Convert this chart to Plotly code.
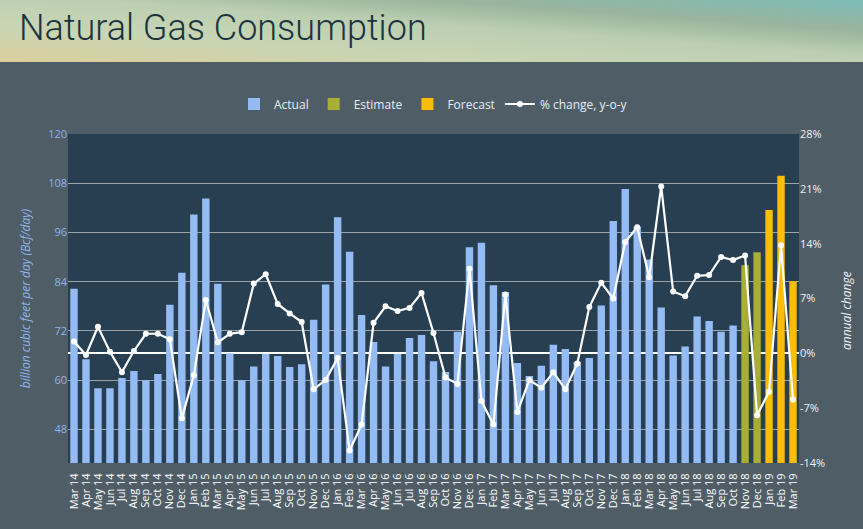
import base64
import plotly.graph_objects as go

months = ["Mar 14","Apr 14","May 14","Jun 14","Jul 14","Aug 14","Sep 14","Oct 14","Nov 14","Dec 14",
          "Jan 15","Feb 15","Mar 15","Apr 15","May 15","Jun 15","Jul 15","Aug 15","Sep 15","Oct 15","Nov 15","Dec 15",
          "Jan 16","Feb 16","Mar 16","Apr 16","May 16","Jun 16","Jul 16","Aug 16","Sep 16","Oct 16","Nov 16","Dec 16",
          "Jan 17","Feb 17","Mar 17","Apr 17","May 17","Jun 17","Jul 17","Aug 17","Sep 17","Oct 17","Nov 17","Dec 17",
          "Jan 18","Feb 18","Mar 18","Apr 18","May 18","Jun 18","Jul 18","Aug 18","Sep 18","Oct 18","Nov 18","Dec 18",
          "Jan 19","Feb 19","Mar 19"]

actual_months = months[:56]
actual_values = [82.3, 65.1, 58.0, 58.0, 60.5, 62.2, 60.0, 61.5, 78.4, 86.2,
                 100.4, 104.3, 83.5, 66.5, 60.0, 63.3, 66.4, 65.9, 63.2, 63.9, 74.7, 83.3,
                 99.7, 91.3, 75.9, 69.3, 63.3, 66.4, 70.3, 71.0, 64.6, 62.0, 71.8, 92.4,
                 93.5, 83.1, 81.5, 64.2, 61.0, 63.5, 68.6, 67.6, 64.5, 65.4, 78.2, 98.8,
                 106.6, 97.4, 89.4, 77.7, 66.0, 68.2, 75.5, 74.4, 71.8, 73.3]

estimate_months = ["Nov 18", "Dec 18"]
estimate_values = [88.0, 91.2]

forecast_months = ["Jan 19", "Feb 19", "Mar 19"]
forecast_values = [101.5, 109.8, 84.1]

pct_change = [1.5, -0.2, 3.4, 0.2, -2.4, 0.3, 2.5, 2.5, 1.8, -8.3,
              -2.8, 6.8, 1.4, 2.5, 2.7, 8.9, 10.1, 6.3, 5.1, 4.0, -4.6, -3.4,
              -0.6, -12.4, -9.1, 3.9, 6.0, 5.4, 5.8, 7.7, 2.6, -3.1, -3.9, 10.8,
              -6.1, -9.1, 7.5, -7.5, -3.4, -4.4, -2.4, -4.6, -1.3, 5.9, 9.0, 7.0,
              14.2, 16.1, 9.7, 21.3, 7.9, 7.3, 9.9, 10.0, 12.3, 11.9, 12.5, -7.9,
              -4.9, 13.8, -5.9]

left_ticks = [48, 60, 72, 84, 96, 108, 120]
right_ticks = [-14, -7, 0, 7, 14, 21, 28]
right_labels = ["-14%", "-7%", "0%", "7%", "14%", "21%", "28%"]

W, H = 863, 529
L, R, T, B = 68, 64, 134, 66
pw, ph = W - L - R, H - T - B

BG = "#4f5d67"
PLOT_BG = "#273f51"
FONT = "Open Sans, DejaVu Sans, sans-serif"

fig = go.Figure()
fig.add_trace(go.Bar(x=actual_months, y=actual_values, name="Actual",
                     marker=dict(color="#94bbf4", line=dict(width=0))))
fig.add_trace(go.Bar(x=estimate_months, y=estimate_values, name="Estimate",
                     marker=dict(color="#a9ae36", line=dict(width=0))))
fig.add_trace(go.Bar(x=forecast_months, y=forecast_values, name="Forecast",
                     marker=dict(color="#fbbd08", line=dict(width=0))))
fig.add_trace(go.Scatter(x=months, y=pct_change, name="% change, y-o-y", yaxis="y2",
                         mode="lines+markers",
                         line=dict(color="#ffffff", width=2.2),
                         marker=dict(color="#ffffff", size=6)))

svg = ('<svg xmlns="http://www.w3.org/2000/svg" width="863" height="62" preserveAspectRatio="none">'
       '<defs><linearGradient id="g" x1="0" y1="1" x2="1" y2="0">'
       '<stop offset="0" stop-color="#dccf9c"/>'
       '<stop offset="0.3" stop-color="#c8d5b4"/>'
       '<stop offset="0.55" stop-color="#bccfb2"/>'
       '<stop offset="0.75" stop-color="#9ab49d"/>'
       '<stop offset="1" stop-color="#7dbdb9"/>'
       '</linearGradient></defs><rect width="863" height="62" fill="url(#g)"/></svg>')
src = "data:image/svg+xml;base64," + base64.b64encode(svg.encode()).decode()

fig.update_layout(
    width=W, height=H,
    margin=dict(l=L, r=R, t=T, b=B, pad=0),
    paper_bgcolor=BG, plot_bgcolor=PLOT_BG,
    barmode="overlay", bargap=0.38,
    font=dict(family=FONT, color="#ffffff", size=11),
    showlegend=True,
    legend=dict(orientation="h", x=0.5, xanchor="center", y=1 + (T - 104) / ph, yanchor="middle",
                font=dict(size=12, color="#e8eef2", family=FONT), bgcolor="rgba(0,0,0,0)",
                itemwidth=30, traceorder="normal"),
    xaxis=dict(type="category", categoryorder="array", categoryarray=months,
               tickmode="array", tickvals=months, ticktext=months,
               tickangle=-90, tickfont=dict(size=11, color="#ffffff", family=FONT),
               ticks="outside", ticklen=5, tickcolor=BG, tickwidth=1,
               showgrid=False, showline=False, zeroline=False,
               range=[-0.5, len(months) - 0.5]),
    yaxis=dict(range=[39.8, 120], tickvals=left_ticks, showgrid=True,
               gridcolor="#9aa4aa", gridwidth=1, zeroline=False,
               tickfont=dict(size=11, color="#8fb3ec", family=FONT), ticks="", ticklen=0,
               title=dict(text="<i>billion cubic feet per day (Bcf/day)</i>",
                          font=dict(size=12, color="#8fb3ec", family=FONT), standoff=14)),
    yaxis2=dict(overlaying="y", side="right", range=[-14, 28], tickvals=right_ticks,
                ticktext=right_labels, showgrid=False, zeroline=True,
                zerolinecolor="#ffffff", zerolinewidth=1.5,
                tickfont=dict(size=11, color="#f2f2f2", family=FONT)),
    images=[dict(source=src, xref="paper", yref="paper", x=-L / pw, y=1 + T / ph,
                 sizex=W / pw, sizey=62 / ph, sizing="stretch", xanchor="left", yanchor="top",
                 layer="below")],
    annotations=[
        dict(text="Natural Gas Consumption", xref="paper", yref="paper",
             x=(17 - L) / pw, y=1 + (T - 28) / ph, xanchor="left", yanchor="middle",
             showarrow=False, font=dict(size=36, color="#1b3340", weight=300,
                                        family="Roboto, sans-serif")),
        dict(text="<i>annual change</i>", xref="paper", yref="paper",
             x=1 + (846 - (W - R)) / pw, y=(H - B - 311) / ph, xanchor="center", yanchor="middle",
             textangle=-90, showarrow=False,
             font=dict(size=12, color="#f2f2f2", family=FONT)),
    ],
)

fig.write_html("out.html", config={"displayModeBar": False},
               post_script="document.body.style.margin='0';")
